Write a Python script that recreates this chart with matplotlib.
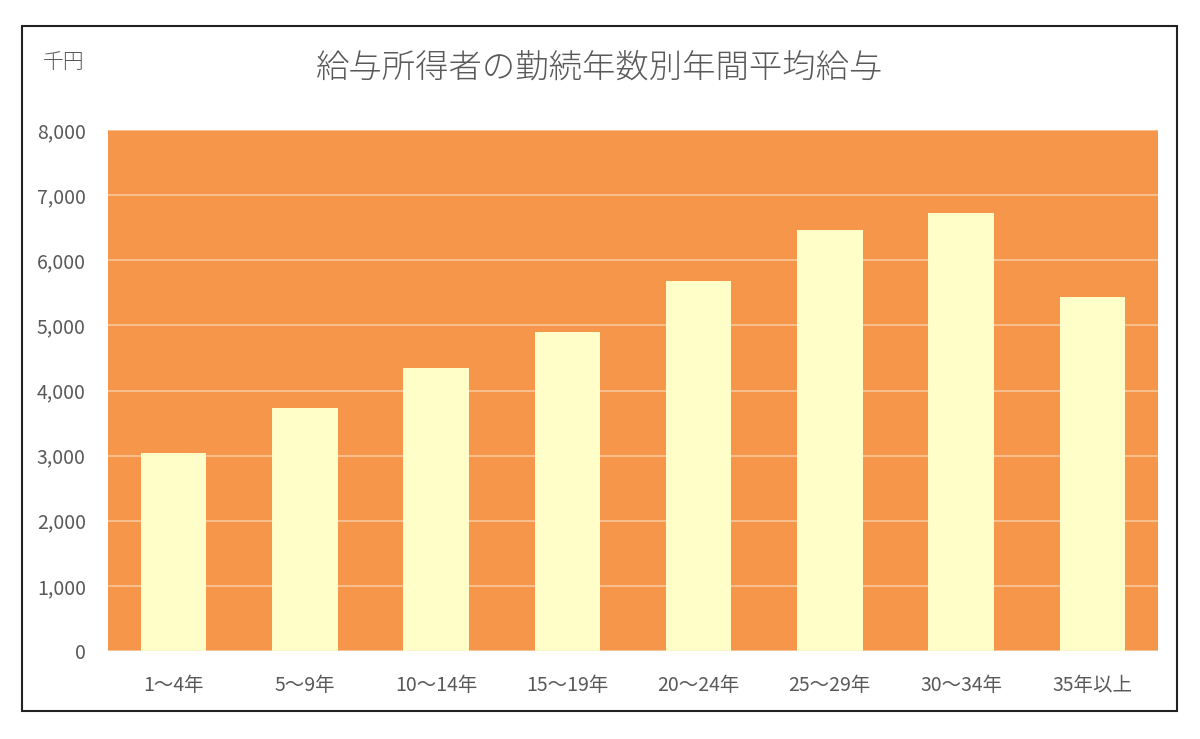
import matplotlib
matplotlib.use('Agg')
import matplotlib.pyplot as plt
from matplotlib.patches import Rectangle
from matplotlib.ticker import FuncFormatter

plt.rcParams['font.family'] = ['Noto Sans CJK JP', 'DejaVu Sans']

categories = ['1～4年', '5～9年', '10～14年', '15～19年', '20～24年', '25～29年', '30～34年', '35年以上']
salary = [3040, 3730, 4350, 4900, 5680, 6470, 6730, 5440]
y_ticks = [0, 1000, 2000, 3000, 4000, 5000, 6000, 7000, 8000]

text_color = '#595959'

fig = plt.figure(figsize=(12, 7.39), dpi=100)
fig.patch.set_facecolor('white')

# outer chart frame
fig.patches.append(Rectangle((22 / 1200, 1 - 711 / 739), 1155 / 1200, 685 / 739,
                             transform=fig.transFigure, fill=False,
                             edgecolor='#222222', linewidth=1.5))

ax = fig.add_axes([108 / 1200, 1 - 651 / 739, 1050 / 1200, 521 / 739])
ax.set_facecolor('#F5964A')
ax.bar(range(len(categories)), salary, width=0.5, color='#FFFDC8', zorder=3)

ax.set_xlim(-0.5, len(categories) - 0.5)
ax.set_ylim(0, 8000)
ax.set_yticks(y_ticks)
ax.yaxis.set_major_formatter(FuncFormatter(lambda v, p: f'{int(v):,}'))
ax.set_xticks(range(len(categories)))
ax.set_xticklabels(categories)
ax.grid(axis='y', color='#F9C79B', linewidth=1.2, zorder=1)
ax.tick_params(length=0, labelsize=14, labelcolor=text_color)
ax.tick_params(axis='x', pad=17)
ax.tick_params(axis='y', pad=16)
for s in ax.spines.values():
    s.set_visible(False)
ax.axhline(0, color='#E0D8C8', linewidth=1, zorder=4)

fig.text(0.5, 1 - 68 / 739, '給与所得者の勤続年数別年間平均給与', ha='center', va='center',
         fontsize=24, color=text_color, fontweight='light')
fig.text(64 / 1200, 1 - 62 / 739, '千円', ha='center', va='center',
         fontsize=15, color=text_color, fontweight='light')

fig.savefig('out.png', dpi=100)
